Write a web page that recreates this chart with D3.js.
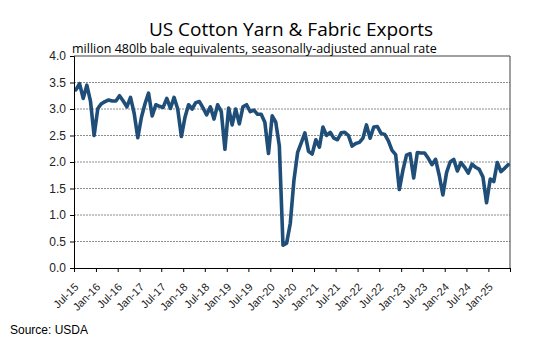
<!DOCTYPE html>
<html>
<head>
<meta charset="utf-8">
<script src="https://cdn.jsdelivr.net/npm/d3@7"></script>
<style>
  body { margin: 0; background: #fff; }
  svg { display: block; }
</style>
</head>
<body>
<div id="chart"></div>
<script>
/* ---------------------- Data ---------------------- */
// Monthly, Jul-2015 .. Jun-2025 (million 480lb bale equivalents, SAAR)
var startMonth = new Date(2015, 6, 1);
var exportValues = [
    3.36, 3.48, 3.20, 3.45, 3.15, 2.50, 3.01, 3.10, 3.14, 3.17, 3.15, 3.15,
    3.25, 3.15, 3.04, 3.22, 2.92, 2.46, 2.85, 3.10, 3.30, 2.87, 3.08, 3.05,
    3.03, 3.20, 3.01, 3.22, 3.00, 2.48, 2.85, 3.08, 3.00, 3.12, 3.14, 3.02,
    2.89, 3.04, 2.81, 3.08, 2.95, 2.24, 3.02, 2.70, 3.00, 2.72, 3.04, 3.08,
    2.95, 2.98, 2.90, 2.90, 2.75, 2.16, 2.87, 2.75, 2.30, 0.43, 0.47, 0.84,
    1.65, 2.18, 2.36, 2.55, 2.20, 2.15, 2.42, 2.28, 2.66, 2.50, 2.56, 2.45,
    2.42, 2.55, 2.56, 2.50, 2.30, 2.35, 2.37, 2.45, 2.70, 2.45, 2.66, 2.67,
    2.54, 2.52, 2.40, 2.22, 2.14, 1.48, 1.85, 2.13, 2.16, 1.70, 2.18, 2.17,
    2.17, 2.07, 1.95, 2.05, 1.75, 1.38, 1.80, 2.00, 2.05, 1.83, 1.99, 1.90,
    1.79, 1.96, 1.90, 1.86, 1.72, 1.23, 1.68, 1.63, 1.99, 1.82, 1.88, 1.95
];
var xTickLabels = ["Jul-15", "Jan-16", "Jul-16", "Jan-17", "Jul-17", "Jan-18", "Jul-18",
    "Jan-19", "Jul-19", "Jan-20", "Jul-20", "Jan-21", "Jul-21", "Jan-22", "Jul-22",
    "Jan-23", "Jul-23", "Jan-24", "Jul-24", "Jan-25", ""];
var yTicks = [0, 0.5, 1, 1.5, 2, 2.5, 3, 3.5, 4];

var colors = {line: "#1f4e79", grid: "#8c8c8c", axis: "#000", text: "#000"};

/* ---------------------- Chart ---------------------- */
var size = {w: 552, h: 363};
var plot = {left: 74, right: 510, top: 56, bottom: 268};

var months = d3.range(exportValues.length).map(i => d3.timeMonth.offset(startMonth, i));
var data = months.map((m, i) => ({date: m, value: exportValues[i]}));

var svg = d3.select("#chart")
    .append("svg")
    .attr("width", size.w)
    .attr("height", size.h);

var xScale = d3.scaleTime()
    .domain([startMonth, d3.timeMonth.offset(startMonth, exportValues.length)])
    .range([plot.left, plot.right]);

var yScale = d3.scaleLinear()
    .domain([0, 4])
    .range([plot.bottom, plot.top]);

// mid-month position for each point
function midX(d) {
    return (xScale(d.date) + xScale(d3.timeMonth.offset(d.date, 1))) / 2;
}

// Gridlines
svg.append("g")
    .selectAll("line")
    .data(yTicks.filter(t => t > 0 && t < 4))
    .enter()
    .append("line")
    .attr("x1", plot.left)
    .attr("x2", plot.right)
    .attr("y1", d => yScale(d))
    .attr("y2", d => yScale(d))
    .attr("stroke", colors.grid)
    .attr("stroke-width", 1)
    .attr("stroke-dasharray", "2,1");

// Plot border (top + right)
svg.append("path")
    .attr("d", `M${plot.left},${plot.top}H${plot.right}V${plot.bottom}`)
    .attr("fill", "none")
    .attr("stroke", "#404040")
    .attr("stroke-width", 1);

// Line
svg.append("path")
    .datum(data)
    .attr("fill", "none")
    .attr("stroke", colors.line)
    .attr("stroke-width", 3.6)
    .attr("stroke-linejoin", "round")
    .attr("stroke-linecap", "round")
    .attr("d", d3.line().x(midX).y(d => yScale(d.value)));

// Y axis
var yAxis = d3.axisLeft(yScale)
    .tickValues(yTicks)
    .tickFormat(d3.format(".1f"))
    .tickSize(4)
    .tickPadding(4);

var gy = svg.append("g")
    .attr("transform", `translate(${plot.left},0)`)
    .call(yAxis);
gy.select(".domain").attr("stroke", colors.axis);
gy.selectAll("text")
    .attr("font-family", "Liberation Sans, Arial, sans-serif")
    .attr("font-size", 12)
    .attr("fill", "#222");

// X axis
var tickDates = xTickLabels.map((l, i) => d3.timeMonth.offset(startMonth, i * 6));
var xAxis = d3.axisBottom(xScale)
    .tickValues(tickDates)
    .tickFormat((d, i) => xTickLabels[i])
    .tickSize(4)
    .tickSizeOuter(0);

var gx = svg.append("g")
    .attr("transform", `translate(0,${plot.bottom})`)
    .call(xAxis);
gx.select(".domain").attr("stroke", colors.axis);
gx.selectAll("text")
    .attr("font-family", "Liberation Sans, Arial, sans-serif")
    .attr("font-size", 11)
    .attr("fill", "#222")
    .attr("text-anchor", "end")
    .attr("dy", "0.35em")
    .attr("transform", "translate(2,17) rotate(-45)")
    .attr("y", 0)
    .attr("x", 0);

// Title
svg.append("text")
    .attr("x", 291)
    .attr("y", 35.5)
    .attr("text-anchor", "middle")
    .attr("font-family", "Open Sans, sans-serif")
    .attr("font-size", 19)
    .attr("fill", colors.text)
    .text("US Cotton Yarn & Fabric Exports");

// Subtitle
svg.append("text")
    .attr("x", 72)
    .attr("y", 52.5)
    .attr("font-family", "Open Sans, sans-serif")
    .attr("font-size", 12.5)
    .attr("fill", colors.text)
    .text("million 480lb bale equivalents, seasonally-adjusted annual rate");

// Source
svg.append("text")
    .attr("x", 10)
    .attr("y", 334)
    .attr("font-family", "Liberation Sans, Arial, sans-serif")
    .attr("font-size", 12)
    .attr("fill", colors.text)
    .text("Source: USDA");
</script>
</body>
</html>
